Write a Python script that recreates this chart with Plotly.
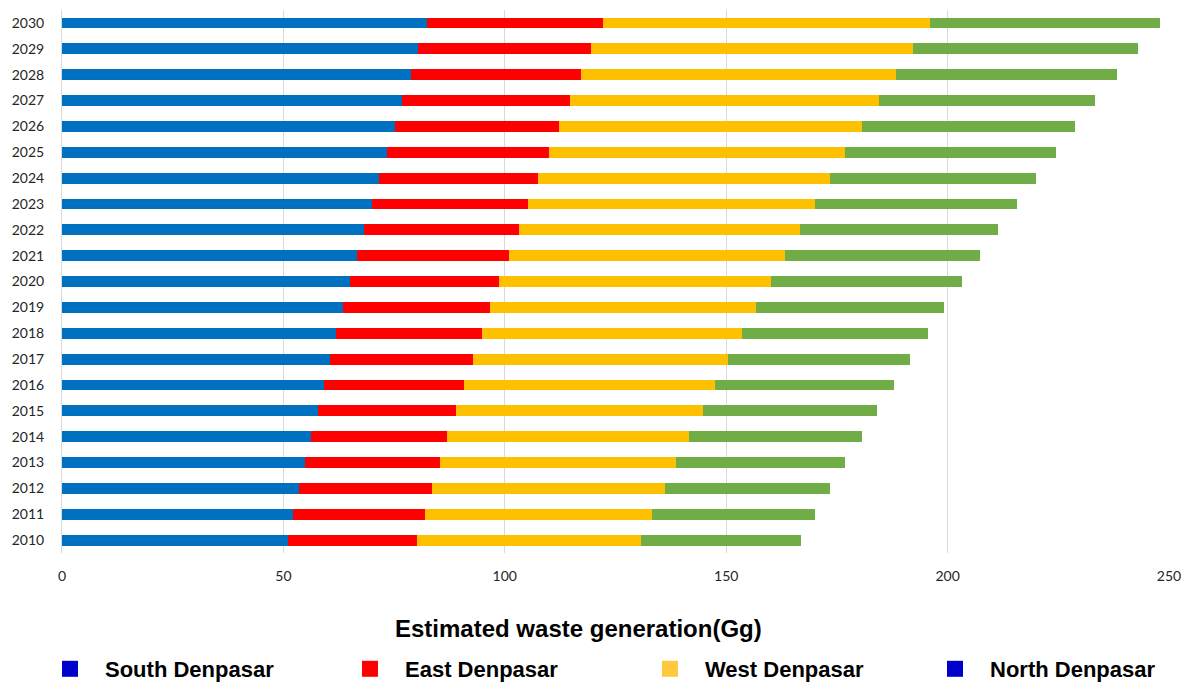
import plotly.graph_objects as go

years = [str(y) for y in range(2010, 2031)]
south = [51.0, 52.2, 53.6, 54.9, 56.3, 57.7, 59.1, 60.5, 61.9, 63.4, 65.1,
         66.6, 68.2, 70.0, 71.6, 73.4, 75.1, 76.8, 78.8, 80.5, 82.5]
east = [29.2, 29.7, 30.0, 30.4, 30.7, 31.3, 31.6, 32.3, 32.9, 33.3, 33.7,
        34.4, 34.9, 35.3, 36.0, 36.5, 37.1, 37.9, 38.3, 39.0, 39.6]
west = [50.5, 51.3, 52.5, 53.4, 54.5, 55.7, 56.8, 57.5, 58.7, 60.0, 61.3,
        62.2, 63.6, 64.7, 65.8, 67.0, 68.5, 69.7, 71.2, 72.6, 73.9]
north = [36.2, 36.8, 37.4, 38.2, 39.2, 39.3, 40.3, 41.2, 42.0, 42.5, 43.1,
         44.2, 44.7, 45.7, 46.5, 47.6, 48.1, 48.9, 50.0, 51.0, 52.0]

series_names = ["South Denpasar", "East Denpasar", "West Denpasar", "North Denpasar"]
bar_colors = ["#0070C0", "#FF0000", "#FFC000", "#70AD47"]
legend_colors = ["#0000CC", "#FF0000", "#FFC83D", "#0000CC"]
x_ticks = [0, 50, 100, 150, 200, 250]

W, H = 1191, 682
fig = go.Figure()
for name, vals, col in zip(series_names, [south, east, west, north], bar_colors):
    fig.add_trace(go.Bar(
        y=years, x=vals, name=name, orientation="h",
        marker=dict(color=col, line=dict(width=0)),
        width=0.42, showlegend=False,
    ))

legend_ids = ["legend", "legend2", "legend3", "legend4"]
text_starts = [105, 405, 705, 990]
for name, col, lid in zip(series_names, legend_colors, legend_ids):
    fig.add_trace(go.Scatter(
        x=[None], y=[None], mode="markers", name=name,
        marker=dict(symbol="square", size=16, color=col),
        showlegend=True, legend=lid,
    ))

legend_font = dict(family="Liberation Sans, Arial, sans-serif", size=22,
                   color="#000000", weight="bold")
layout_legends = {}
for lid, ts in zip(legend_ids, text_starts):
    layout_legends[lid] = dict(
        orientation="h", xref="container", yref="container",
        x=(ts - 70) / W, xanchor="left", y=(H - 669) / H, yanchor="middle",
        font=legend_font, itemwidth=60, bgcolor="rgba(0,0,0,0)",
    )

fig.update_layout(
    barmode="stack",
    width=W, height=H,
    margin=dict(l=62, r=22, t=10, b=129),
    plot_bgcolor="white", paper_bgcolor="white",
    font=dict(family="Lato, Liberation Sans, sans-serif", color="#262626"),
    xaxis=dict(
        range=[0, 250], tickvals=x_ticks,
        showgrid=True, gridcolor="#D9D9D9", gridwidth=1,
        zeroline=False, showline=False,
        tickfont=dict(size=14, color="#262626"),
        ticklabelstandoff=13,
        fixedrange=True,
    ),
    yaxis=dict(
        categoryorder="array", categoryarray=years,
        range=[-0.5, 20.5],
        showgrid=False, showline=True, linecolor="#D9D9D9", linewidth=1,
        tickfont=dict(size=14, color="#262626"),
        ticklabelstandoff=14,
        fixedrange=True,
    ),
    annotations=[dict(
        text="<b>Estimated waste generation(Gg)</b>",
        xref="paper", yref="paper", x=(578.5 - 62) / 1107, y=-(628 - 553) / 543,
        xanchor="center", yanchor="middle", showarrow=False,
        font=dict(family="Liberation Sans, Arial, sans-serif", size=24, color="#000000"),
    )],
    **layout_legends,
)

fig.write_html("out.html")
